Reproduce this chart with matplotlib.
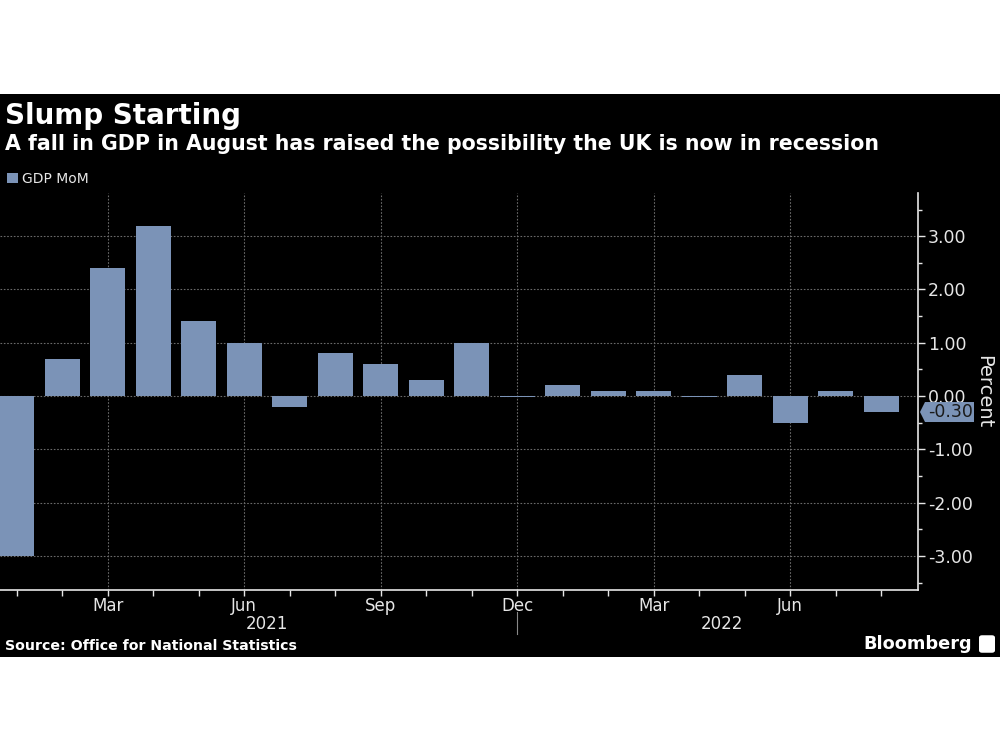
import matplotlib
matplotlib.use("Agg")
import matplotlib.pyplot as plt
import numpy as np
from matplotlib.transforms import blended_transform_factory, IdentityTransform
from matplotlib.patches import Rectangle, Polygon, FancyBboxPatch

# ---- data ----
months = ["Jan", "Feb", "Mar", "Apr", "May", "Jun", "Jul", "Aug", "Sep", "Oct", "Nov", "Dec",
          "Jan", "Feb", "Mar", "Apr", "May", "Jun", "Jul", "Aug"]
years = [2021] * 12 + [2022] * 8
gdp_mom = [-3.0, 0.7, 2.4, 3.2, 1.4, 1.0, -0.2, 0.8, 0.6, 0.3, 1.0, -0.02,
           0.2, 0.1, 0.1, -0.02, 0.4, -0.5, 0.1, -0.3]
labelled_months = ["Mar", "Jun", "Sep", "Dec"]
y_ticks = [-3, -2, -1, 0, 1, 2, 3]
last_value_label = "-0.30"

title = "Slump Starting"
subtitle = "A fall in GDP in August has raised the possibility the UK is now in recession"
source = "Source: Office for National Statistics"

BAR = "#7b93b7"
BG = "#000000"
FG = "#e6e6e6"

fig = plt.figure(figsize=(10, 7.5), dpi=100)
fig.patch.set_facecolor("white")
# black panel
fig.patches.append(Rectangle((0, 1 - 657 / 750), 1, (657 - 94) / 750,
                             transform=fig.transFigure, facecolor=BG, edgecolor="none", zorder=-5))

ax = fig.add_axes([0.0, 1 - 590 / 750, 0.918, (590 - 193) / 750])
ax.set_zorder(2)
ax.set_facecolor(BG)

x = np.arange(len(gdp_mom))
ax.bar(x, gdp_mom, width=0.77, color=BAR, zorder=3, label="GDP MoM")

ax.set_xlim(-0.37, len(x) - 1 + 0.81)
ax.set_ylim(-3.64, 3.81)

# y axis on right
ax.yaxis.tick_right()
ax.set_yticks(y_ticks)
ax.set_yticklabels([f"{v:.2f}" for v in y_ticks])
ax.set_yticks(np.arange(-3.5, 4.0, 0.5), minor=True)
ax.tick_params(axis="y", which="major", colors=FG, labelsize=12.5, length=5, width=1, pad=2)
ax.tick_params(axis="y", which="minor", colors=FG, length=3, width=1)

# x ticks: every month minor, labelled ones major
major_idx = [i for i, m in enumerate(months) if m in labelled_months]
ax.set_xticks(major_idx)
ax.set_xticklabels([months[i] for i in major_idx])
ax.set_xticks(x, minor=True)
ax.tick_params(axis="x", which="major", colors=FG, labelsize=12, length=4, width=1, pad=1)
ax.tick_params(axis="x", which="minor", colors=FG, length=4, width=1)

for s in ["top", "left"]:
    ax.spines[s].set_visible(False)
for s in ["right", "bottom"]:
    ax.spines[s].set_color(FG)
    ax.spines[s].set_linewidth(1.2)

ax.grid(axis="y", which="major", color="#6a6a6a", linestyle=(0, (1.5, 1.5)), linewidth=0.8, zorder=1)
ax.grid(axis="x", which="major", color="#6a6a6a", linestyle=(0, (1.5, 1.5)), linewidth=0.8, zorder=1)

# Year labels
trans = blended_transform_factory(ax.transData, ax.transAxes)
for yr in sorted(set(years)):
    idx = [i for i, y in enumerate(years) if y == yr]
    ax.text(np.mean(idx), -0.062, str(yr), transform=trans, ha="center", va="top",
            color=FG, fontsize=12)
sep_idx = years.index(2022) - 1
ax.plot([sep_idx, sep_idx], [-0.055, -0.11], transform=trans, color="#888888",
        linewidth=0.8, clip_on=False)

# ylabel
ax.text(1.072, 0.5, "Percent", transform=ax.transAxes, rotation=-90, ha="center",
        va="center", color=FG, fontsize=14)

# last value tag (pointed label at the right axis)
ttag = blended_transform_factory(ax.transAxes, ax.transData)
ax_px, val_px = ttag.transform((1.0, gdp_mom[-1]))
h = 10
tag = Polygon([(ax_px + 2, val_px), (ax_px + 7, val_px + h), (ax_px + 56, val_px + h),
               (ax_px + 56, val_px - h), (ax_px + 7, val_px - h)], closed=True,
              transform=IdentityTransform(), facecolor=BAR, edgecolor="none", zorder=6)
fig.patches.append(tag)
fig.text(ax_px + 10, val_px, last_value_label, transform=IdentityTransform(), ha="left",
         va="center", color="#1a1a1a", fontsize=12.5, zorder=7)

# titles
fig.text(0.005, 1 - 116 / 750, title, color="white", fontsize=20, fontweight="bold",
         ha="left", va="center")
fig.text(0.005, 1 - 144 / 750, subtitle, color="white", fontsize=14.8, fontweight="bold",
         ha="left", va="center")

# legend
fig.legend(loc="center left", bbox_to_anchor=(0.004, 1 - 179 / 750), frameon=False,
           handlelength=0.8, handleheight=0.8, handletextpad=0.3, labelcolor=FG,
           fontsize=10, borderaxespad=0, borderpad=0.2)

# footer
fig.text(0.005, 1 - 646 / 750, source, color="white", fontsize=10.2, fontweight="bold",
         ha="left", va="center")
fig.text(0.972, 1 - 644 / 750, "Bloomberg", color="white", fontsize=12.8, fontweight="bold",
         ha="right", va="center")
fig.patches.append(FancyBboxPatch((0.980, 1 - 652 / 750), 0.014, 16 / 750,
                                  boxstyle="round,pad=0.001,rounding_size=0.003",
                                  transform=fig.transFigure, facecolor="white",
                                  edgecolor="none", zorder=2))

fig.savefig("out.png", dpi=100, facecolor=fig.get_facecolor())
